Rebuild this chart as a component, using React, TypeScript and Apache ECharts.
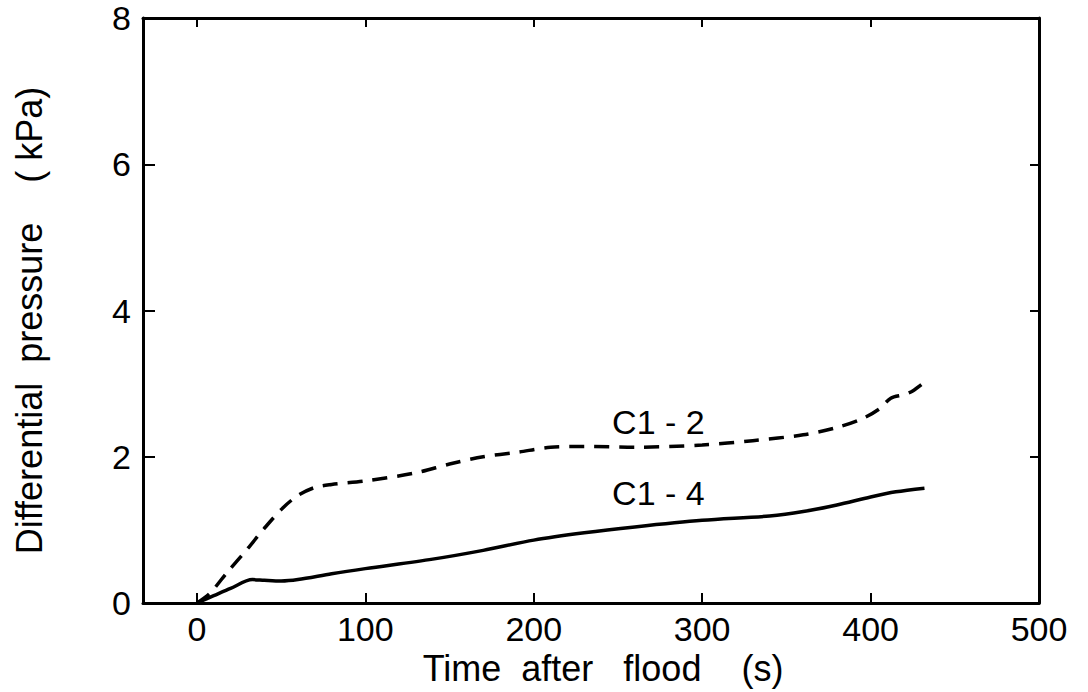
import React, { useEffect, useRef } from "react";
import * as echarts from "echarts";

// Time after flood (s) / differential pressure (kPa)
const c12Time = [0, 8, 18, 30, 40, 51, 60, 70, 80, 100, 130, 150, 170, 190, 210, 230, 260, 300, 330, 360, 380, 395, 405, 412, 420, 425, 432];
const c12Pressure = [0, 0.14, 0.42, 0.74, 1.02, 1.3, 1.47, 1.58, 1.62, 1.67, 1.78, 1.9, 2.0, 2.06, 2.13, 2.14, 2.13, 2.16, 2.22, 2.3, 2.4, 2.52, 2.65, 2.8, 2.85, 2.9, 3.02];

const c14Time = [0, 10, 20, 33, 40, 50, 60, 80, 100, 140, 170, 200, 230, 260, 300, 340, 360, 380, 400, 415, 432];
const c14Pressure = [0, 0.1, 0.2, 0.32, 0.31, 0.3, 0.32, 0.4, 0.47, 0.6, 0.72, 0.86, 0.96, 1.04, 1.13, 1.19, 1.25, 1.34, 1.45, 1.52, 1.57];

const xTicks = [0, 100, 200, 300, 400, 500];
const yTicks = [0, 2, 4, 6, 8];
const seriesNames = ["C1 - 2", "C1 - 4"];
const labelPos12 = [274, 2.48];
const labelPos14 = [274, 1.5];

const FONT = "Liberation Sans";

export default function App() {
  const ref = useRef<HTMLDivElement>(null);
  useEffect(() => {
    if (!ref.current) return;
    const chart = echarts.init(ref.current, null, { renderer: "svg" });
    const zip = (a: number[], b: number[]) => a.map((v, i) => [v, b[i]]);
    const axisLine = { show: true, onZero: false, lineStyle: { color: "#000", width: 3 } };
    const tickStyle = { color: "#000", width: 2 };
    chart.setOption({
      animation: false,
      backgroundColor: "#fff",
      grid: { left: 143, right: 49, top: 18, bottom: 89 },
      xAxis: [
        {
          type: "value",
          min: -32,
          max: 500,
          position: "bottom",
          axisLine,
          axisTick: { show: true, inside: true, length: 10, customValues: xTicks, lineStyle: tickStyle },
          axisLabel: { customValues: xTicks, color: "#000", fontSize: 34, fontFamily: FONT, margin: 9 },
          splitLine: { show: false },
          name: "Time  after   flood    (s)",
          nameLocation: "middle",
          nameGap: 47,
          nameTextStyle: { color: "#000", fontSize: 36, fontFamily: FONT, padding: [0, 0, 0, 24] },
        },
        {
          type: "value",
          min: -32,
          max: 500,
          position: "top",
          axisLine,
          axisTick: { show: true, inside: true, length: 9, customValues: xTicks, lineStyle: tickStyle },
          axisLabel: { show: false },
          splitLine: { show: false },
        },
      ],
      yAxis: [
        {
          type: "value",
          min: 0,
          max: 8,
          interval: 2,
          position: "left",
          axisLine,
          axisTick: { show: true, inside: true, length: 12, lineStyle: tickStyle },
          axisLabel: { customValues: yTicks, color: "#000", fontSize: 34, lineHeight: 30, fontFamily: FONT, margin: 12 },
          splitLine: { show: false },
          name: "Differential  pressure    ( kPa)",
          nameLocation: "middle",
          nameGap: 96,
          nameRotate: 90,
          nameTextStyle: { color: "#000", fontSize: 36, fontFamily: FONT, padding: [0, 20, 0, 0] },
        },
        {
          type: "value",
          min: 0,
          max: 8,
          interval: 2,
          position: "right",
          axisLine,
          axisTick: { show: true, inside: true, length: 9, lineStyle: tickStyle },
          axisLabel: { show: false },
          splitLine: { show: false },
        },
      ],
      series: [
        {
          name: seriesNames[0],
          type: "line",
          smooth: 0.3,
          symbol: "none",
          data: zip(c12Time, c12Pressure),
          lineStyle: { color: "#000", width: 3.5, type: [15, 10] },
          markPoint: {
            symbol: "circle",
            symbolSize: 0,
            data: [{ coord: labelPos12 }],
            label: { show: true, formatter: seriesNames[0], color: "#000", fontSize: 34, fontFamily: FONT },
          },
        },
        {
          name: seriesNames[1],
          type: "line",
          smooth: 0.3,
          symbol: "none",
          data: zip(c14Time, c14Pressure),
          lineStyle: { color: "#000", width: 3.5 },
          markPoint: {
            symbol: "circle",
            symbolSize: 0,
            data: [{ coord: labelPos14 }],
            label: { show: true, formatter: seriesNames[1], color: "#000", fontSize: 34, fontFamily: FONT },
          },
        },
      ],
    });
    return () => chart.dispose();
  }, []);
  return (
    <div
      ref={ref}
      style={{ position: "fixed", left: 0, top: 0, width: 1088, height: 692, background: "#fff" }}
    />
  );
}
